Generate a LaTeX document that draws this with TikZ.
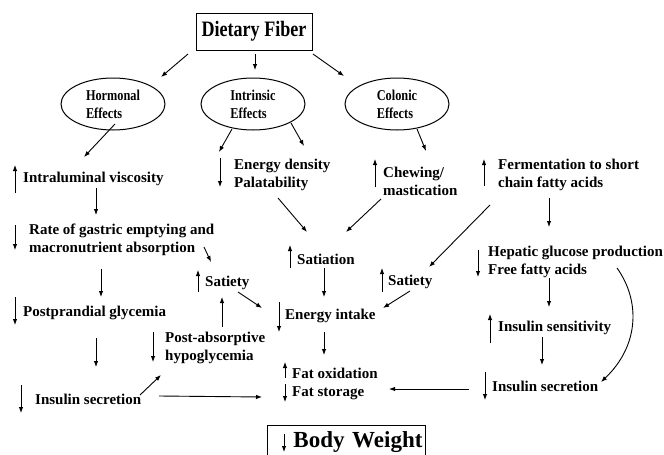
\documentclass[tikz,border=0pt]{standalone}
\usepackage{fontspec}
\setmainfont{Liberation Serif}
\newfontfamily\narrowserif{Liberation Serif}[FakeStretch=0.82]
\usetikzlibrary{arrows.meta,shapes.geometric}
\tikzset{
	conn/.style={line width=0.9pt, -{Latex[length=6pt,width=4.5pt]}},
	txt/.style={anchor=west, inner sep=0pt, align=left, font=\fontsize{15}{18}\selectfont\bfseries},
	effect/.style={draw, line width=1pt, ellipse, minimum width=104pt, minimum height=52pt, inner sep=0pt, align=left, font=\narrowserif\fontsize{15}{18}\selectfont\bfseries},
	titlebox/.style={draw, line width=1pt, inner sep=0pt}
}
\def\trend(#1)(#2:#3:#4){\draw[conn] ([shift={(#2,#3)}]#1.west) -- ([shift={(#2,#4)}]#1.west);}
\begin{document}
\begin{tikzpicture}[x=1pt, y=-1pt]
			%%%%% START %%%%%
			\useasboundingbox (0, 0) rectangle (664, 455);
			
			\node[titlebox, minimum width=116pt, minimum height=37pt, font=\narrowserif\fontsize{22}{24}\selectfont\bfseries] (fiber) at (254, 31.5) {Dietary Fiber};
			
			\node[effect] (horm) at (113, 104) {Hormonal\\Effects};
			\node[effect] (intr) at (253, 104) {Intrinsic\\Effects};
			\node[effect] (col) at (397, 104) {Colonic\\Effects};
			
			\draw[conn] ([shift={(-66,22.5)}]fiber.center) -- ([shift={(48,-27)}]horm.center);
			\draw[conn] ([shift={(1,22.5)}]fiber.center) -- ([shift={(2,-34)}]intr.center);
			\draw[conn] ([shift={(59,22.5)}]fiber.center) -- ([shift={(-53,-28)}]col.center);
			
			% hormonal side
			\node[txt] (visc) at (23, 179) {Intraluminal viscosity};
			\node[txt] (gastric) at (29, 240) {Rate of gastric emptying and\\macronutrient absorption};
			\node[txt] (postp) at (23, 313) {Postprandial glycemia};
			\node[txt] (inslA) at (35, 399) {Insulin secretion};
			\node[txt] (hypo) at (165, 348) {Post-absorptive\\hypoglycemia};
			\node[txt] (satA) at (205, 283) {Satiety};
			
			\trend(visc)(-8:14:-14)
			\trend(gastric)(-14:-15:10)
			\trend(postp)(-8:-16:12)
			\trend(inslA)(-14:-14:14)
			\trend(hypo)(-12:-16:14)
			\trend(satA)(-7:9:-13)
			
			\draw[conn] ([shift={(2,20)}]horm.center) -- ([shift={(61,-22)}]visc.west);
			\draw[conn] ([shift={(73,9)}]visc.west) -- ([shift={(67,-25)}]gastric.west);
			\draw[conn] ([shift={(175,7)}]gastric.west) -- ([shift={(6,-21)}]satA.west);
			\draw[conn] ([shift={(72,29)}]gastric.west) -- ([shift={(78,-16)}]postp.west);
			\draw[conn] ([shift={(73,25)}]postp.west) -- ([shift={(61,-32)}]inslA.west);
			\draw[conn] ([shift={(105,-4)}]inslA.west) -- ([shift={(-4,27)}]hypo.west);
			\draw[conn] ([shift={(57,-21)}]hypo.west) -- ([shift={(17,14)}]satA.west);
			
			% intrinsic side
			\node[txt] (energy) at (234, 175) {Energy density\\Palatability};
			\node[txt] (chew) at (383, 181) {Chewing/\\mastication};
			\node[txt] (satiation) at (297, 259) {Satiation};
			\node[txt] (intake) at (285, 316) {Energy intake};
			\node[txt] (fat) at (292, 384) {Fat oxidation\\Fat storage};
			
			\trend(energy)(-14:-17:12)
			\trend(chew)(-8:6:-22)
			\trend(satiation)(-7:9:-14)
			\trend(intake)(-6:-14:16)
			\trend(fat)(-7:-6:-22)
			\trend(fat)(-7:0:18)
			
			\draw[conn] ([shift={(-21,25)}]intr.center) -- ([shift={(-15,-23)}]energy.west);
			\draw[conn] ([shift={(38,19)}]intr.center) -- ([shift={(-79,-35)}]chew.west);
			\draw[conn] ([shift={(44,23)}]energy.west) -- ([shift={(10,-27)}]satiation.west);
			\draw[conn] ([shift={(-2,18)}]chew.west) -- ([shift={(49,-27)}]satiation.west);
			\draw[conn] ([shift={(27,9)}]satiation.west) -- ([shift={(39,-19)}]intake.west);
			\draw[conn] ([shift={(33,9)}]satA.west) -- ([shift={(-23,-8)}]intake.west);
			\draw[conn] ([shift={(39,16)}]intake.west) -- ([shift={(32,-29)}]fat.west);
			\draw[conn] ([shift={(124,-3)}]inslA.west) -- ([shift={(-30,13)}]fat.west);
			
			% colonic side
			\node[txt] (ferm) at (498, 175) {Fermentation to short\\chain fatty acids};
			\node[txt] (satB) at (388, 282) {Satiety};
			\node[txt] (hepatic) at (488, 262) {Hepatic glucose production\\Free fatty acids};
			\node[txt] (sens) at (498, 328) {Insulin sensitivity};
			\node[txt] (inslB) at (492, 386) {Insulin secretion};
			
			\trend(ferm)(-14:11:-16)
			\trend(satB)(-6:10:-14)
			\trend(hepatic)(-10:-12:15)
			\trend(sens)(-8:15:-14)
			\trend(inslB)(-7:-14:14)
			
			\draw[conn] ([shift={(20,25)}]col.center) -- ([shift={(-72,-24)}]ferm.west);
			\draw[conn] ([shift={(-8,30)}]ferm.west) -- ([shift={(41,-15)}]satB.west);
			\draw[conn] ([shift={(22,9)}]satB.west) -- ([shift={(98,-8)}]intake.west);
			\draw[conn] ([shift={(51,23)}]ferm.west) -- ([shift={(61,-35)}]hepatic.west);
			\draw[conn] ([shift={(61,16)}]hepatic.west) -- ([shift={(51,-21)}]sens.west);
			\draw[conn] ([shift={(44,9)}]sens.west) -- ([shift={(50,-21)}]inslB.west);
			\draw[conn] ([shift={(129,6)}]hepatic.west) .. controls +(23,32) and +(39,-37) .. ([shift={(109,-4)}]inslB.west);
			\draw[conn] ([shift={(-23,3)}]inslB.west) -- ([shift={(97,5)}]fat.west);
			
			% outcome
			\node[titlebox, anchor=north west, minimum height=34pt, text width=152pt, inner xsep=3pt, align=right, font=\fontsize{23}{26}\selectfont\bfseries] (weight) at (267, 425) {Body Weight};
			\draw[conn] ([shift={(17,9)}]weight.north west) -- ([shift={(17,27)}]weight.north west);
			
			%%%%% END %%%%%
\end{tikzpicture}
\end{document}
